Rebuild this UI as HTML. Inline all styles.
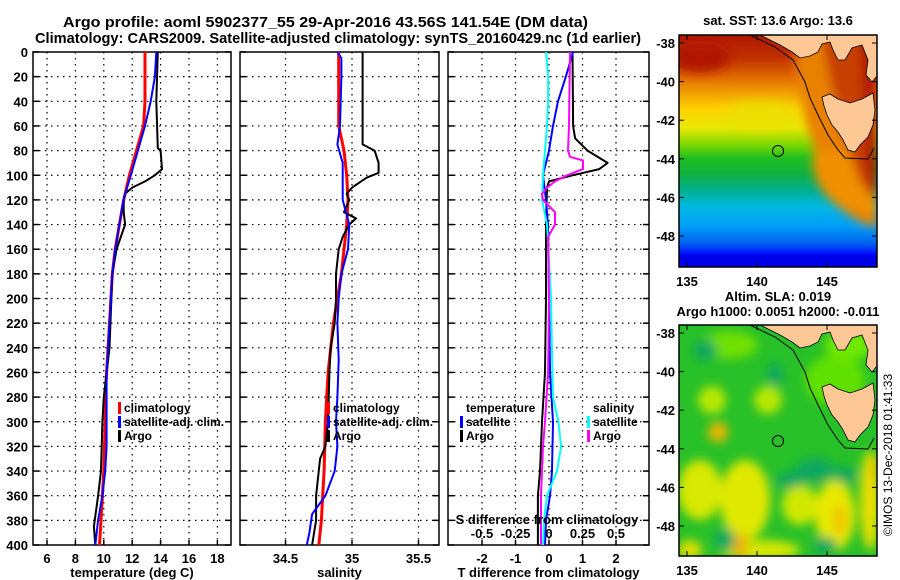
<!DOCTYPE html>
<html><head><meta charset="utf-8">
<style>
html,body{margin:0;padding:0;background:#fff;}
svg{display:block;font-family:"Liberation Sans",Arial,sans-serif;font-weight:bold;}
</style></head>
<body>
<svg id="fig" width="900" height="580" viewBox="0 0 900 580" xmlns="http://www.w3.org/2000/svg">
<defs>
<filter id="blur8" x="-50%" y="-50%" width="200%" height="200%"><feGaussianBlur stdDeviation="8"/></filter>
<filter id="blur5" x="-50%" y="-50%" width="200%" height="200%"><feGaussianBlur stdDeviation="5"/></filter>
<clipPath id="clipTop"><rect x="679" y="35" width="198" height="232"/></clipPath>
<clipPath id="clipBot"><rect x="679" y="325" width="198" height="231"/></clipPath>
<linearGradient id="sstGrad" x1="0" y1="0" x2="0" y2="1">
<stop offset="0" stop-color="#b01800"/><stop offset="0.1" stop-color="#c03000"/>
<stop offset="0.18" stop-color="#e06800"/><stop offset="0.25" stop-color="#f0a000"/>
<stop offset="0.32" stop-color="#ffd000"/><stop offset="0.4" stop-color="#e8e800"/>
<stop offset="0.47" stop-color="#80d800"/><stop offset="0.53" stop-color="#20c020"/>
<stop offset="0.6" stop-color="#10b040"/><stop offset="0.67" stop-color="#00b090"/>
<stop offset="0.74" stop-color="#00b8e0"/><stop offset="0.82" stop-color="#00a0f8"/>
<stop offset="0.9" stop-color="#0060f0"/><stop offset="0.95" stop-color="#0000ff"/>
<stop offset="1" stop-color="#0000e8"/>
</linearGradient>
</defs>
<g id="titles">
<text x="63" y="27" font-size="15" textLength="525" lengthAdjust="spacingAndGlyphs">Argo profile: aoml 5902377_55 29-Apr-2016 43.56S 141.54E (DM data)</text>
<text x="35" y="43" font-size="15" textLength="606" lengthAdjust="spacingAndGlyphs">Climatology: CARS2009. Satellite-adjusted climatology: synTS_20160429.nc (1d earlier)</text>
</g>
<g id="panels"></g>
<g id="maps"></g>
<text x="0" y="0" font-size="12" font-weight="normal" transform="translate(892,455) rotate(-90)" text-anchor="middle">©IMOS 13-Dec-2018 01:41:33</text>
</svg>
<script>
// ---- data (depth in m) ----
const tClimDepth=[0,40,60,80,100,120,140,160,180,220,260,280,300,340,380,400];
const tClimVal=[12.9,12.9,12.8,12.3,11.8,11.4,11.1,10.8,10.6,10.4,10.2,10.1,10.1,10.0,9.8,9.7];
const tSatDepth=[0,20,40,60,80,100,119,140,160,180,220,260,300,320,340,360,380,400];
const tSatVal=[13.7,13.6,13.3,12.9,12.4,11.9,11.4,11.1,10.8,10.6,10.4,10.2,10.2,10.2,10.1,9.9,9.6,9.4];
const tArgoDepth=[0,40,78,80,95,100,105,110,115,120,130,140,160,180,240,280,300,340,360,385,400];
const tArgoVal=[13.8,13.7,13.8,14.0,14.1,13.6,12.9,12.0,11.5,11.4,11.4,11.5,10.9,10.6,10.4,10.0,9.9,9.8,9.6,9.3,9.4];
const sClimDepth=[0,60,80,100,120,140,180,220,260,280,300,340,360,380,400];
const sClimVal=[34.90,34.90,34.94,34.96,34.97,34.96,34.92,34.86,34.82,34.81,34.80,34.79,34.78,34.77,34.75];
const sSatDepth=[0,5,20,60,75,90,120,140,160,180,200,220,250,280,300,320,340,360,375,390,400];
const sSatVal=[34.89,34.92,34.92,34.91,34.89,34.93,34.93,34.98,34.97,34.92,34.90,34.89,34.90,34.89,34.88,34.89,34.87,34.80,34.70,34.68,34.66];
const sArgoDepth=[0,75,80,90,98,102,110,115,120,130,135,140,150,160,180,200,220,240,260,300,320,330,360,380,400];
const sArgoVal=[35.08,35.08,35.17,35.20,35.20,35.11,35.00,34.96,34.98,34.94,35.03,34.98,34.93,34.90,34.88,34.88,34.87,34.84,34.83,34.82,34.80,34.76,34.73,34.73,34.70];
const dTSatDepth=[0,20,40,60,80,100,120,140,200,260,300,340,360,380,400];
const dTSatVal=[0.72,0.5,0.27,0.12,0.0,-0.18,-0.09,-0.03,0.0,0.03,0.12,0.09,0.03,-0.09,-0.12];
const dTArgoDepth=[0,60,70,80,90,95,100,105,110,140,200,260,300,340,360,400];
const dTArgoVal=[0.7,0.72,0.78,1.15,1.75,1.5,0.7,0.0,-0.06,-0.09,-0.09,-0.12,-0.21,-0.27,-0.33,-0.33];
const dSArgoDepth=[0,60,80,85,88,95,100,105,110,115,120,130,140,150,200,260,300,320,360,400];
const dSArgoVal=[0.157,0.149,0.142,0.157,0.254,0.254,0.134,0.045,-0.015,-0.052,-0.045,0.045,0.045,-0.007,0.0,-0.007,-0.03,-0.045,-0.06,-0.06];
const dSSatDepth=[0,20,40,60,80,100,120,140,200,240,280,300,320,340,360,380,400];
const dSSatVal=[-0.022,-0.007,-0.007,-0.015,-0.03,-0.045,-0.052,-0.015,0.015,0.022,0.03,0.07,0.09,0.06,-0.015,-0.037,-0.045];
const depthTicks=[0,20,40,60,80,100,120,140,160,180,200,220,240,260,280,300,320,340,360,380,400];
const tTicks=[6,8,10,12,14,16,18];
const sTicks=[34.5,35,35.5];
const dTTicks=[-2,-1,0,1,2];
const dSTicks=[-0.5,-0.25,0,0.25,0.5];
const latTicks=[-38,-40,-42,-44,-46,-48];
const lonTicks=[135,140,145];

const NS="http://www.w3.org/2000/svg";
function el(tag,attrs,parent){const e=document.createElementNS(NS,tag);for(const k in attrs)e.setAttribute(k,attrs[k]);parent.appendChild(e);return e;}
const P=document.getElementById('panels');
const yD=d=>52+d*1.2325;
const yTop=52,yBot=545;
const xT=t=>47+(t-6)*14.2;
const xS=s=>352+(s-35)*133;
const xdT=v=>549+v*33.5;
const xdS=v=>549+v*134;

function panel(name,x0,x1,xTicksArr,xf,labels,title){
  const g=el('g',{},P);
  
  
  depthTicks.forEach(d=>{if(d>0&&d<400){el('line',{x1:x0,x2:x1,y1:yD(d),y2:yD(d),stroke:'#000','stroke-width':1.2,'stroke-dasharray':'1.5,4.5'},g);}
    el('line',{x1:x0,x2:x0+6,y1:yD(d),y2:yD(d),stroke:'#000','stroke-width':1.5},g);
    el('line',{x1:x1-6,x2:x1,y1:yD(d),y2:yD(d),stroke:'#000','stroke-width':1.5},g);});
  xTicksArr.forEach(v=>{const x=xf(v);el('line',{x1:x,x2:x,y1:yTop,y2:yBot,stroke:'#000','stroke-width':1.2,'stroke-dasharray':'1.5,4.5'},g);
    el('line',{x1:x,x2:x,y1:yBot-5,y2:yBot,stroke:'#000','stroke-width':1.5},g);});
  el('rect',{x:x0,y:yTop,width:x1-x0,height:yBot-yTop,fill:'none',stroke:'#000','stroke-width':1.5},g);
  if(labels){xTicksArr.forEach(v=>{const t=el('text',{x:xf(v),y:563,'text-anchor':'middle','font-size':13},g);t.textContent=String(v);
    
    });}
  const tt=el('text',{x:(x0+x1)/2,y:577,'text-anchor':'middle','font-size':13},g);tt.textContent=title;
  
  
  return g;
}
function line(g,depths,vals,xf,color,w,name){
  const pts=depths.map((d,i)=>xf(vals[i]).toFixed(1)+','+yD(d).toFixed(1)).join(' ');
  const p=el('polyline',{points:pts,fill:'none',stroke:color,'stroke-width':w,'stroke-linejoin':'round'},g);
  
  
}
function legend(g,x,y,items){
  items.forEach((it,i)=>{
    if(it.c) el('rect',{x:x,y:y+i*14-10,width:3,height:12,fill:it.c},g);
    const t=el('text',{x:x+6,y:y+i*14,'font-size':12},g);t.textContent=it.t;
    
    
  });
}
depthTicks.forEach(d=>{const t=el('text',{x:28,y:yD(d)+5,'text-anchor':'end','font-size':13},P);t.textContent=String(d);
  
  });

const g1=panel('temperature-panel',33,231,tTicks,xT,true,'temperature (deg C)');
line(g1,tClimDepth,tClimVal,xT,'#ff0000',3,'temp-climatology-line');
line(g1,tArgoDepth,tArgoVal,xT,'#000',2,'temp-argo-line');
line(g1,tSatDepth,tSatVal,xT,'#0000ff',2,'temp-satellite-line');
legend(g1,118,412,[{c:'#ff0000',t:'climatology'},{c:'#0000ff',t:'satellite-adj. clim.'},{c:'#000',t:'Argo'}]);

const g2=panel('salinity-panel',240,439,sTicks,xS,true,'salinity');
line(g2,sClimDepth,sClimVal,xS,'#ff0000',3,'sal-climatology-line');
line(g2,sArgoDepth,sArgoVal,xS,'#000',2,'sal-argo-line');
line(g2,sSatDepth,sSatVal,xS,'#0000ff',2,'sal-satellite-line');
legend(g2,327,412,[{c:'#ff0000',t:'climatology'},{c:'#0000ff',t:'satellite-adj. clim.'},{c:'#000',t:'Argo'}]);

const g3=panel('difference-panel',448,649,dTTicks,xdT,true,'T difference from climatology');
line(g3,dTArgoDepth,dTArgoVal,xdT,'#000',2,'dT-argo-line');
line(g3,dTSatDepth,dTSatVal,xdT,'#0000ff',2,'dT-satellite-line');
line(g3,dSSatDepth,dSSatVal,xdS,'#00ffff',2,'dS-satellite-line');
line(g3,dSArgoDepth,dSArgoVal,xdS,'#ff00ff',2,'dS-argo-line');
legend(g3,460,412,[{c:null,t:'temperature'},{c:'#0000ff',t:'satellite'},{c:'#000',t:'Argo'}]);
legend(g3,587,412,[{c:null,t:'salinity'},{c:'#00ffff',t:'satellite'},{c:'#ff00ff',t:'Argo'}]);
{const t=el('text',{x:547,y:524,'text-anchor':'middle','font-size':13},g3);t.textContent='S difference from climatology';
 
 
 dSTicks.forEach(v=>{const s=el('text',{x:xdS(v),y:538,'text-anchor':'middle','font-size':13},g3);s.textContent=String(v);
  
  });}

// ---- maps ----
const M=document.getElementById('maps');
const lonX=l=>687+(l-135)*14;
function latY(l,off){return 43+off+(-38-l)*19.3;}
function landShapes(g,off){
  const mainland=[[760,35],[877,35],[877,76],[872,82],[866,75],[868,60],[862,45],[852,48],[845,60],[838,60],[833,50],[830,42],[822,44],[818,52],[810,56],[800,58],[792,52],[780,45],[770,40]];
  const tas=[[822,97],[830,94],[838,99],[850,103],[862,99],[873,93],[875,110],[873,125],[868,137],[860,145],[855,152],[848,150],[843,140],[838,132],[832,125],[827,115],[824,106]];
  const ml=el('polygon',{points:mainland.map(p=>p[0]+','+(p[1]+off)).join(' '),fill:'#fdc896',stroke:'#000','stroke-width':0.8},g);
  
  
  const ts=el('polygon',{points:tas.map(p=>p[0]+','+(p[1]+off)).join(' '),fill:'#fdc896',stroke:'#000','stroke-width':0.8},g);
  
  
  const cont=[[750,35],[775,47],[793,60],[805,82],[810,98],[818,115],[828,135],[838,150],[845,158],[868,159],[874,148]];
  el('polyline',{points:cont.map(p=>p[0]+','+(p[1]+off)).join(' '),fill:'none',stroke:'#000','stroke-width':1},g);
}
function mapFrame(g,off,h){
  el('rect',{x:679,y:35+off,width:198,height:h,fill:'none',stroke:'#000','stroke-width':1.5},g);
  latTicks.forEach(l=>{const y=latY(l,off);
    el('line',{x1:679,x2:684,y1:y,y2:y,stroke:'#000'},g);el('line',{x1:872,x2:877,y1:y,y2:y,stroke:'#000'},g);
    const t=el('text',{x:675,y:y+5,'text-anchor':'end','font-size':13},g);t.textContent=String(l);
    
    });
  lonTicks.forEach(l=>{const x=lonX(l);
    el('line',{x1:x,x2:x,y1:35+off,y2:40+off,stroke:'#000'},g);el('line',{x1:x,x2:x,y1:35+off+h-5,y2:35+off+h,stroke:'#000'},g);
    const t=el('text',{x:x,y:35+off+h+19,'text-anchor':'middle','font-size':13},g);t.textContent=String(l);
    
    });
}
const gm1=el('g',{},M);


{const t=el('text',{x:778,y:25,'text-anchor':'middle','font-size':13},gm1);t.textContent='sat. SST: 13.6 Argo: 13.6';
 const c=el('g',{'clip-path':'url(#clipTop)'},gm1);
 el('rect',{x:679,y:35,width:198,height:232,fill:'url(#sstGrad)'},c);
 const gb=el('g',{filter:'url(#blur5)'},c);
 el('polygon',{points:'795,35 877,35 877,228 860,222 845,212 830,200 818,185 812,165 815,150 805,120 800,90 795,65',fill:'#e88000'},gb);
 el('polygon',{points:'812,150 877,150 877,215 850,210 830,198 818,180',fill:'#f09000'},gb);
 el('polygon',{points:'820,35 877,35 877,200 862,185 852,160 840,120 830,80',fill:'#c84000'},gb);
 el('polygon',{points:'860,35 877,35 877,200 866,170',fill:'#b01800'},gb);
 el('ellipse',{cx:700,cy:58,rx:30,ry:14,fill:'#b01800'},gb);
 el('ellipse',{cx:760,cy:115,rx:40,ry:15,fill:'#e8e000',opacity:0.7},gb);
 el('rect',{x:679,y:255,width:198,height:12,fill:'#0000e8'},c);
 landShapes(c,0);
 el('circle',{cx:778,cy:151,r:5.5,fill:'none',stroke:'#000','stroke-width':1},c);
 mapFrame(gm1,0,232);}
const gm2=el('g',{},M);


{const t=el('text',{x:778,y:301,'text-anchor':'middle','font-size':13},gm2);t.textContent='Altim. SLA: 0.019';
 const t2=el('text',{x:778,y:316,'text-anchor':'middle','font-size':13},gm2);t2.textContent='Argo h1000: 0.0051 h2000: -0.011';
 const c=el('g',{'clip-path':'url(#clipBot)'},gm2);
 el('rect',{x:679,y:325,width:198,height:231,fill:'#28c028'},c);
 const gb=el('g',{filter:'url(#blur5)'},c);
 const light=[[730,345,28,14,'#70e000'],[712,400,14,14,'#b8e800'],[768,400,14,14,'#b8e800'],[835,380,30,25,'#60e000'],[850,345,25,15,'#70e800'],[700,490,22,30,'#d8e800'],[745,500,25,40,'#e0e800'],[800,505,18,20,'#d0e800'],[835,515,20,35,'#e8e800'],[870,500,10,50,'#e8e000'],[760,550,40,10,'#d8e800'],[690,550,12,10,'#e0e000']];
 light.forEach(b=>el('ellipse',{cx:b[0],cy:b[1],rx:b[2],ry:b[3],fill:b[4]},gb));
 const hot=[[718,432,10,10,'#f0c000'],[718,432,5,5,'#f0a000'],[740,545,8,12,'#f0b000'],[840,520,6,15,'#f0c000'],[875,470,4,15,'#f0c000']];
 hot.forEach(b=>el('ellipse',{cx:b[0],cy:b[1],rx:b[2],ry:b[3],fill:b[4]},gb));
 const dk=[[705,350,12,10],[775,375,8,12],[725,540,10,12],[815,470,20,12],[845,475,12,8],[790,480,15,8],[825,545,12,8]];
 dk.forEach(b=>el('ellipse',{cx:b[0],cy:b[1],rx:b[2],ry:b[3],fill:'#10a860'},gb));
 landShapes(c,290);
 el('circle',{cx:778,cy:441,r:5.5,fill:'none',stroke:'#000','stroke-width':1},c);
 mapFrame(gm2,290,231);}
</script>
</body></html>
